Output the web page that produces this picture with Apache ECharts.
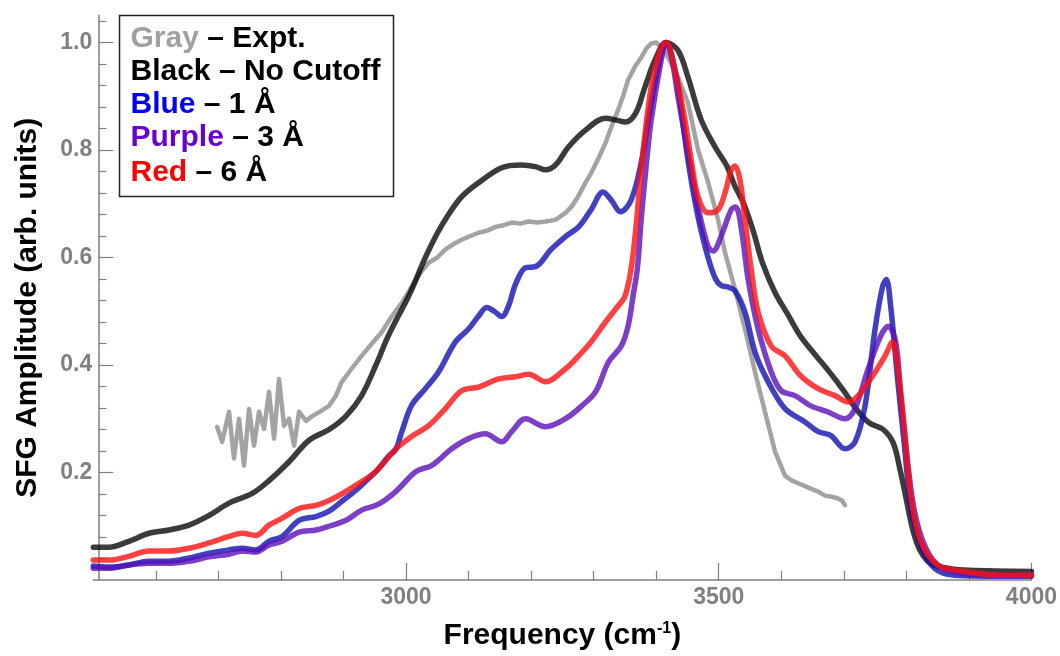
<!DOCTYPE html>
<html>
<head>
<meta charset="utf-8">
<script src="https://cdn.jsdelivr.net/npm/echarts@6/dist/echarts.min.js"></script>
<style>html,body{margin:0;padding:0;background:#fff}#c{width:1060px;height:656px}</style>
</head>
<body>
<div id="c"></div>
<script>
// ---- data ----
const xTickLabels = [3000, 3500, 4000];
const yTickLabels = [0.2, 0.4, 0.6, 0.8, 1.0];

const grayX = [2698,2706,2717,2725,2733,2741,2749,2757,2765,2773,2781,2789,2797,2805,2813,2821,2829,2840,2849,2865,2877,2888,2897,2913,2929,2945,2961,2977,2993,3009,3022,3036,3050,3063,3076,3089,3103,3116,3130,3143,3156,3169,3183,3196,3210,3223,3239,3255,3265,3275,3285,3296,3308,3319,3329,3339,3347,3355,3366,3376,3385,3392,3400,3410,3420,3435,3451,3467,3483,3499,3510,3526,3542,3558,3574,3590,3606,3617,3627,3637,3647,3658,3670,3680,3690,3697,3702];
const grayY = [0.285,0.257,0.313,0.226,0.30,0.213,0.318,0.25,0.313,0.281,0.35,0.263,0.374,0.287,0.30,0.25,0.313,0.296,0.304,0.315,0.324,0.343,0.368,0.393,0.417,0.439,0.461,0.49,0.515,0.545,0.57,0.59,0.60,0.615,0.625,0.633,0.64,0.646,0.65,0.657,0.66,0.665,0.663,0.667,0.665,0.667,0.67,0.683,0.695,0.713,0.735,0.757,0.785,0.813,0.845,0.874,0.90,0.93,0.955,0.972,0.99,0.998,1.0,0.99,0.97,0.935,0.887,0.80,0.74,0.67,0.61,0.541,0.467,0.387,0.313,0.239,0.194,0.185,0.18,0.175,0.17,0.165,0.157,0.155,0.152,0.148,0.139];

const blackX = [2500,2525,2557,2589,2621,2653,2685,2717,2754,2781,2813,2845,2877,2904,2929,2952,2970,2984,3000,3009,3031,3050,3068,3089,3116,3153,3184,3207,3223,3239,3260,3287,3319,3335,3351,3367,3382,3398,3416,3435,3451,3472,3494,3513,3525,3540,3555,3570,3590,3610,3630,3650,3675,3700,3720,3741,3763,3779,3790,3800,3810,3822,3840,3870,3900,4000];
const blackY = [0.061,0.061,0.072,0.087,0.093,0.102,0.12,0.143,0.161,0.185,0.22,0.26,0.28,0.305,0.343,0.40,0.45,0.483,0.518,0.54,0.60,0.645,0.68,0.713,0.739,0.767,0.772,0.769,0.763,0.772,0.806,0.837,0.859,0.856,0.852,0.868,0.917,0.967,1.0,0.985,0.935,0.856,0.806,0.77,0.735,0.70,0.65,0.59,0.535,0.495,0.455,0.425,0.39,0.352,0.318,0.292,0.28,0.255,0.205,0.15,0.095,0.055,0.03,0.021,0.018,0.016];

const blueX = [2500,2526,2557,2589,2621,2653,2685,2717,2738,2760,2781,2802,2829,2856,2877,2897,2920,2945,2956,2972,2984,2993,3009,3031,3052,3079,3100,3116,3129,3141,3153,3164,3175,3191,3207,3232,3255,3276,3296,3315,3328,3343,3360,3376,3392,3408,3416,3425,3435,3451,3467,3483,3495,3504,3515,3526,3542,3558,3579,3606,3638,3659,3679,3702,3718,3734,3750,3762,3768,3775,3786,3797,3807,3823,3845,3877,3950,4000];
const blueY = [0.026,0.024,0.028,0.035,0.035,0.041,0.05,0.056,0.059,0.056,0.072,0.081,0.111,0.118,0.128,0.146,0.167,0.194,0.207,0.23,0.244,0.275,0.325,0.356,0.387,0.443,0.467,0.491,0.507,0.50,0.49,0.51,0.55,0.581,0.583,0.615,0.639,0.657,0.689,0.722,0.707,0.685,0.707,0.776,0.887,0.98,1.0,0.975,0.917,0.78,0.675,0.60,0.56,0.548,0.545,0.538,0.498,0.424,0.369,0.319,0.294,0.276,0.269,0.244,0.257,0.324,0.467,0.546,0.559,0.509,0.374,0.25,0.139,0.065,0.022,0.009,0.007,0.007];

const purpleX = [2500,2526,2557,2589,2621,2653,2685,2717,2738,2760,2781,2802,2829,2856,2877,2904,2929,2956,2984,3016,3041,3073,3100,3127,3153,3169,3191,3223,3255,3281,3303,3324,3344,3355,3363,3370,3376,3384,3392,3408,3416,3425,3435,3451,3467,3483,3491,3504,3520,3527,3536,3547,3563,3584,3600,3622,3647,3674,3702,3718,3739,3759,3771,3783,3791,3802,3813,3829,3850,3886,3950,4000];
const purpleY = [0.022,0.022,0.028,0.031,0.031,0.035,0.043,0.048,0.054,0.052,0.065,0.072,0.089,0.093,0.10,0.111,0.13,0.141,0.165,0.202,0.213,0.244,0.263,0.272,0.257,0.276,0.30,0.285,0.30,0.324,0.35,0.406,0.435,0.472,0.528,0.58,0.67,0.77,0.855,0.967,1.0,0.97,0.898,0.794,0.694,0.62,0.612,0.64,0.689,0.694,0.655,0.56,0.467,0.387,0.352,0.343,0.324,0.313,0.30,0.319,0.393,0.454,0.472,0.443,0.343,0.22,0.128,0.065,0.028,0.013,0.009,0.009];

const redX = [2500,2526,2557,2589,2621,2653,2685,2717,2738,2760,2781,2802,2829,2856,2877,2904,2929,2952,2984,3009,3036,3063,3089,3116,3148,3175,3196,3223,3255,3276,3296,3319,3335,3350,3360,3368,3376,3392,3408,3416,3430,3446,3456,3467,3483,3499,3510,3520,3526,3534,3542,3552,3563,3584,3606,3631,3659,3686,3707,3723,3743,3766,3778,3786,3797,3807,3823,3850,3886,3950,4000];
const redY = [0.037,0.037,0.044,0.054,0.054,0.059,0.069,0.081,0.087,0.083,0.102,0.115,0.133,0.139,0.148,0.165,0.183,0.202,0.244,0.267,0.287,0.319,0.352,0.359,0.374,0.378,0.383,0.369,0.393,0.417,0.443,0.48,0.504,0.528,0.58,0.66,0.763,0.917,0.991,1.0,0.948,0.856,0.781,0.713,0.683,0.689,0.72,0.763,0.77,0.744,0.67,0.578,0.498,0.435,0.417,0.38,0.356,0.343,0.331,0.343,0.374,0.417,0.443,0.398,0.281,0.157,0.072,0.028,0.017,0.009,0.009];

const zip = (xs, ys) => xs.map((x, i) => [x, ys[i]]);

const FONT = 'Liberation Sans';
const axisGray = '#808080';

const chart = echarts.init(document.getElementById('c'), null, {renderer: 'canvas'});

function lineSeries(name, xs, ys, color, opacity, width, smooth) {
  return {
    name, type: 'line', data: zip(xs, ys), symbol: 'none', smooth: smooth,
    lineStyle: {color, opacity, width, join: 'round', cap: 'round'},
    emphasis: {disabled: true}, silent: true
  };
}

chart.setOption({
  animation: false,
  grid: {left: 93.3, right: 27, top: 15.6, bottom: 74.2, containLabel: false},
  xAxis: {
    type: 'value', min: 2500, max: 4000, interval: 500,
    name: 'Frequency (cm{sup|-1})', nameLocation: 'middle', nameGap: 41,
    nameTextStyle: {
      fontFamily: FONT, fontWeight: 'bold', fontSize: 30, color: '#000',
      rich: {sup: {fontFamily: FONT, fontWeight: 'bold', fontSize: 16, color: '#000', verticalAlign: 'top'}}
    },
    axisLine: {show: true, lineStyle: {color: axisGray, width: 1.5}},
    axisTick: {show: true, inside: true, length: 17, customValues: xTickLabels, lineStyle: {color: axisGray, width: 1.2}},
    minorTick: {show: true, splitNumber: 5, length: 9, lineStyle: {color: axisGray, width: 1.2}},
    axisLabel: {customValues: xTickLabels, margin: 6, fontFamily: FONT, fontWeight: 'bold', fontSize: 23, color: axisGray,
      formatter: v => String(Math.round(v))},
    splitLine: {show: false}
  },
  yAxis: {
    type: 'value', min: 0, max: 1.05, interval: 0.2, offset: -5,
    name: 'SFG Amplitude (arb. units)', nameLocation: 'middle', nameGap: 56,
    nameTextStyle: {fontFamily: FONT, fontWeight: 'bold', fontSize: 30, color: '#000', padding: [0, 20, 0, 0]},
    axisLine: {show: true, lineStyle: {color: axisGray, width: 1.5}},
    axisTick: {show: true, inside: true, length: 15, customValues: yTickLabels, lineStyle: {color: axisGray, width: 1.2}},
    minorTick: {show: true, splitNumber: 5, length: 8, lineStyle: {color: axisGray, width: 1.2}},
    axisLabel: {customValues: yTickLabels, margin: 6, fontFamily: FONT, fontWeight: 'bold', fontSize: 23, color: axisGray,
      formatter: v => Number(v).toFixed(1)},
    splitLine: {show: false}
  },
  series: [
    lineSeries('Gray – Expt.', grayX, grayY, '#8c8c8c', 0.8, 4.5, false),
    lineSeries('Black – No Cutoff', blackX, blackY, '#000000', 0.77, 5.5, 0.35),
    lineSeries('Blue – 1 Å', blueX, blueY, '#1010b0', 0.8, 5.5, 0.35),
    lineSeries('Purple – 3 Å', purpleX, purpleY, '#5a10b8', 0.8, 5.5, 0.35),
    lineSeries('Red – 6 Å', redX, redY, '#ff1010', 0.8, 5.5, 0.35)
  ],
  graphic: [
    {type: 'rect', z: 100, shape: {x: 119.5, y: 15.5, width: 274, height: 181},
     style: {fill: '#fff', stroke: '#222', lineWidth: 1.5}},
    ...[
      ['Gray', '#a0a0a0', ' – Expt.', 39],
      ['Black', '#000000', ' – No Cutoff', 71.5],
      ['Blue', '#0000ff', ' – 1 Å', 104.5],
      ['Purple', '#6a00cc', ' – 3 Å', 138],
      ['Red', '#ff0000', ' – 6 Å', 173]
    ].map(([w, c, rest, y]) => ({
      type: 'text', z: 101, x: 130.5, y: y,
      style: {
        text: '{a|' + w + '}{b|' + rest + '}',
        verticalAlign: 'middle', align: 'left',
        rich: {
          a: {fontFamily: FONT, fontWeight: 'bold', fontSize: 30, fill: c, color: c},
          b: {fontFamily: FONT, fontWeight: 'bold', fontSize: 30, fill: '#000', color: '#000'}
        }
      }
    }))
  ]
});
</script>
</body>
</html>
